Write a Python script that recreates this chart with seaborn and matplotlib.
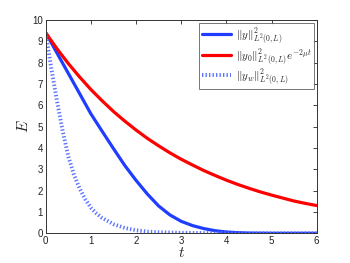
import numpy as np
import pandas as pd
import seaborn as sns
import matplotlib
matplotlib.use("Agg")
import matplotlib.pyplot as plt

# values
t_y = [0, 0.25, 0.5, 0.75, 1.0, 1.25, 1.5, 1.75, 2.0, 2.25, 2.5, 2.75, 3.0,
       3.25, 3.5, 3.75, 4.0, 4.25, 4.5, 5.0, 5.5, 6.0]
E_y = [9.4, 8.45, 7.5, 6.55, 5.6, 4.78, 3.97, 3.18, 2.48, 1.84, 1.28, 0.86, 0.56,
       0.36, 0.22, 0.12, 0.06, 0.03, 0.01, 0.0, 0.0, 0.0]

t_bound = [0, 0.25, 0.5, 0.75, 1.0, 1.25, 1.5, 1.75, 2.0, 2.25, 2.5, 2.75, 3.0,
           3.25, 3.5, 3.75, 4.0, 4.25, 4.5, 4.75, 5.0, 5.25, 5.5, 5.75, 6.0]
E_bound = [9.4, 8.65, 7.96, 7.33, 6.74, 6.21, 5.71, 5.26, 4.84, 4.45, 4.10, 3.77, 3.47,
           3.20, 2.94, 2.71, 2.49, 2.29, 2.11, 1.94, 1.79, 1.65, 1.51, 1.40, 1.3]

t_w = [0, 0.125, 0.25, 0.375, 0.5, 0.625, 0.75, 0.875, 1.0, 1.125, 1.25, 1.5, 1.75,
       2.0, 2.25, 2.5, 3.0, 3.5, 4.0, 5.0, 6.0]
E_w = [9.4, 7.7, 6.2, 4.8, 3.6, 2.75, 2.1, 1.6, 1.2, 0.93, 0.72, 0.43, 0.25,
       0.14, 0.08, 0.05, 0.02, 0.01, 0.0, 0.0, 0.0]

labels = [r'$\|y\|^2_{L^2(0,L)}$',
          r'$\|y_0\|^2_{L^2(0,L)}e^{-2\mu t}$',
          r'$\|y_w\|^2_{L^2(0,L)}$']

sns.set_style("white")
plt.rcParams['font.family'] = ['Liberation Sans', 'DejaVu Sans']
plt.rcParams['mathtext.fontset'] = 'cm'

fig = plt.figure(figsize=(3.5, 2.63), dpi=100)
ax = fig.add_axes([0.1306, 0.113, 0.7744, 0.811])

df_y = pd.DataFrame({'t': t_y, 'E': E_y})
df_b = pd.DataFrame({'t': t_bound, 'E': E_bound})
df_w = pd.DataFrame({'t': t_w, 'E': E_w})

sns.lineplot(data=df_y, x='t', y='E', ax=ax, color='#1f3dff', lw=2.3, label=labels[0])
sns.lineplot(data=df_b, x='t', y='E', ax=ax, color='#ff0000', lw=2.3, label=labels[1])
sns.lineplot(data=df_w, x='t', y='E', ax=ax, color='#5c74ff', lw=2.8,
             label=labels[2], dashes=False)
ax.lines[2].set_dashes([0.35, 0.55])

ax.set_xlim(0, 6)
ax.set_ylim(0, 10)
ax.set_xticks(range(0, 7))
ax.set_yticks(range(0, 11))
ax.tick_params(direction='in', length=3, width=0.6, labelsize=7,
               top=True, right=True, colors='#222222', pad=2)
for s in ax.spines.values():
    s.set_linewidth(0.7)
    s.set_color('#333333')

ax.set_xlabel(r'$t$', fontsize=11, labelpad=0)
ax.set_ylabel(r'$E$', fontsize=11, labelpad=1)

leg = ax.legend(loc='upper right', fontsize=8, frameon=True, fancybox=False,
                borderaxespad=0.25, handlelength=2.6, handletextpad=0.4,
                labelspacing=0.05, borderpad=0.25)
leg.get_frame().set_edgecolor('#555555')
leg.get_frame().set_linewidth(0.7)

fig.savefig('out.png', dpi=100)
